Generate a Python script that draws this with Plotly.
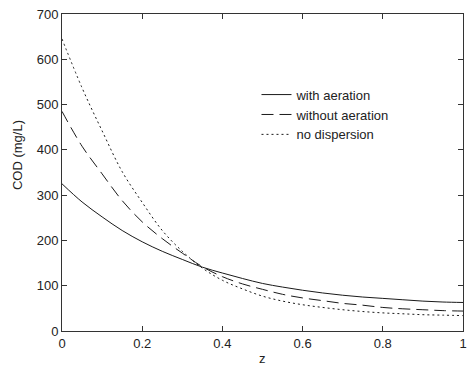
import plotly.graph_objects as go

z = [0.0, 0.05, 0.1, 0.15, 0.2, 0.25, 0.3, 0.35, 0.4, 0.45, 0.5,
     0.55, 0.6, 0.65, 0.7, 0.75, 0.8, 0.85, 0.9, 0.95, 1.0]
with_aeration = [325, 285, 252, 222, 197, 176, 158, 141, 128, 116, 105,
                 97, 90, 84, 79, 75, 72, 69, 66, 64, 63]
without_aeration = [485, 408, 347, 288, 241, 204, 172, 142, 120, 104, 92,
                    81, 73, 67, 61, 57, 52, 49, 47, 45, 44]
no_dispersion = [645, 537, 442, 352, 284, 222, 176, 139, 112, 93, 77,
                 66, 58, 52, 47, 43, 40, 38, 36, 35, 34]

x_ticks = [0, 0.2, 0.4, 0.6, 0.8, 1]
x_ticklabels = ["0", "0.2", "0.4", "0.6", "0.8", "1"]
y_ticks = [0, 100, 200, 300, 400, 500, 600, 700]

font = "Liberation Sans, Arial, sans-serif"
line_col = "#1a1a1a"

fig = go.Figure()
fig.add_trace(go.Scatter(x=z, y=with_aeration, mode="lines", name="with aeration",
                         line=dict(color=line_col, width=1, dash="solid", shape="spline")))
fig.add_trace(go.Scatter(x=z, y=without_aeration, mode="lines", name="without aeration",
                         line=dict(color=line_col, width=1, dash="12px,6px", shape="spline")))
fig.add_trace(go.Scatter(x=z, y=no_dispersion, mode="lines", name="no dispersion",
                         line=dict(color=line_col, width=1, dash="2px,3px", shape="spline")))

axis_common = dict(showgrid=False, zeroline=False, showline=True, linecolor="#333",
                   linewidth=1, mirror="ticks", ticks="inside", ticklen=5,
                   tickcolor="#333", ticklabeloverflow="allow",
                   tickfont=dict(family=font, size=13, color="#222"))

fig.update_layout(
    width=469, height=366,
    margin=dict(l=62, r=2, t=14, b=35),
    paper_bgcolor="white", plot_bgcolor="white",
    font=dict(family=font, size=13, color="#222"),
    showlegend=True,
    legend=dict(x=0.485, y=0.793, xanchor="left", yanchor="top",
                bgcolor="rgba(0,0,0,0)", borderwidth=0,
                font=dict(family=font, size=13, color="#222"),
                tracegroupgap=0, itemwidth=30),
    xaxis=dict(range=[0, 1], tickvals=x_ticks, ticktext=x_ticklabels, **axis_common),
    yaxis=dict(range=[0, 700], tickvals=y_ticks, **axis_common),
    annotations=[
        dict(text="z", xref="paper", yref="paper", x=0.5, y=0, yshift=-27,
             showarrow=False, yanchor="middle", font=dict(family=font, size=13, color="#222")),
        dict(text="COD (mg/L)", xref="paper", yref="paper", x=0, xshift=-45, y=0.555,
             textangle=-90, showarrow=False, xanchor="center", yanchor="middle",
             font=dict(family=font, size=13, color="#222")),
    ],
)

fig.write_html("out.html")
